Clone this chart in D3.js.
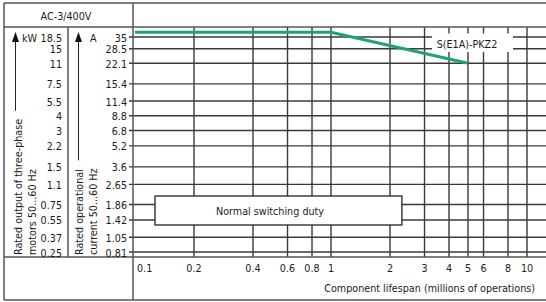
<!DOCTYPE html>
<html>
<head>
<meta charset="utf-8">
<script src="https://cdn.jsdelivr.net/npm/d3@7"></script>
<style>
  body { margin: 0; background: #fff; }
  svg text { font-family: "Liberation Sans Narrow", "DejaVu Sans Condensed", sans-serif; fill: #1a1a1a; }
</style>
</head>
<body>
<div id="chart-area"></div>
<script>
// data
var ampTicks = [35, 28.5, 22.1, 15.4, 11.4, 8.8, 6.8, 5.2, 3.6, 2.65, 1.86, 1.42, 1.05, 0.81]
var kwTicks = ["18.5", "15", "11", "7.5", "5.5", "4", "3", "2.2", "1.5", "1.1", "0.75", "0.55", "0.37", "0.25"]
var lifeTicks = [0.1, 0.2, 0.4, 0.6, 0.8, 1, 2, 3, 4, 5, 6, 8, 10]
var curveLife = [0.1, 1, 5]
var curveAmp = [38, 38, 22.1]
var curveName = "S(E1A)-PKZ2"

var cw = 546, ch = 302
var lineCol = "#3a3a3a"
var fs = "10.7px"

var svg = d3.select("#chart-area").append("svg")
    .attr("width", cw)
    .attr("height", ch)

var x = d3.scaleLog()
    .domain([0.1, 10])
    .range([135, 527])

var y = d3.scaleLog()
    .domain([0.81, 35])
    .range([252, 37])

var top0 = 27, bot0 = 257

// vertical grid
svg.append("g").selectAll("line")
    .data(lifeTicks.slice(1)).enter().append("line")
    .attr("x1", d => x(d)).attr("x2", d => x(d))
    .attr("y1", top0).attr("y2", bot0)
    .attr("stroke", lineCol).attr("stroke-width", 1.4)

// horizontal grid
svg.append("g").selectAll("line")
    .data(ampTicks).enter().append("line")
    .attr("x1", 129).attr("x2", cw)
    .attr("y1", d => y(d)).attr("y2", d => y(d))
    .attr("stroke", lineCol).attr("stroke-width", 1.4)

// frame
var frame = [
    [4, 3, cw, 3], [4, 3, 4, 300], [4, 300, cw, 300],
    [4, top0, cw, top0], [4, bot0, cw, bot0],
    [68, top0, 68, bot0], [133, 3, 133, 300]
]
svg.append("g").selectAll("line")
    .data(frame).enter().append("line")
    .attr("x1", d => d[0]).attr("y1", d => d[1])
    .attr("x2", d => d[2]).attr("y2", d => d[3])
    .attr("stroke", "#555").attr("stroke-width", 1.5)

// curve
var line = d3.line()
    .x((d, i) => x(curveLife[i]))
    .y(d => y(d))

svg.append("path")
    .datum(curveAmp)
    .attr("d", line)
    .attr("fill", "none")
    .attr("stroke", "#1ea56c")
    .attr("stroke-width", 3)

// curve label
svg.append("rect")
    .attr("x", 432).attr("y", 33.5)
    .attr("width", 81).attr("height", 18.5)
    .attr("fill", "#fff")
svg.append("text")
    .attr("x", 467).attr("y", 47.5)
    .attr("text-anchor", "middle")
    .attr("font-size", fs)
    .text(curveName)

// normal switching duty box
svg.append("rect")
    .attr("x", 155).attr("y", 196)
    .attr("width", x(2.3) - 155).attr("height", 29)
    .attr("fill", "#fff")
    .attr("stroke", "#222").attr("stroke-width", 1.3)
svg.append("text")
    .attr("x", 270).attr("y", 214.5)
    .attr("text-anchor", "middle")
    .attr("font-size", fs)
    .text("Normal switching duty")

// left axis labels
svg.append("g").selectAll("text")
    .data(ampTicks).enter().append("text")
    .attr("x", 127).attr("y", d => y(d) + 4.5)
    .attr("text-anchor", "end")
    .attr("font-size", fs)
    .text(d => d)

svg.append("g").selectAll("text")
    .data(kwTicks).enter().append("text")
    .attr("x", 62).attr("y", (d, i) => y(ampTicks[i]) + 4.5)
    .attr("text-anchor", "end")
    .attr("font-size", fs)
    .text(d => d)

svg.append("text").attr("x", 22).attr("y", y(35) + 4.5)
    .attr("font-size", fs).text("kW")
svg.append("text").attr("x", 90).attr("y", y(35) + 4.5)
    .attr("font-size", fs).text("A")

svg.append("text")
    .attr("x", 66).attr("y", 19.5)
    .attr("text-anchor", "middle")
    .attr("font-size", fs)
    .text("AC-3/400V")

// rotated titles, arrows stop just above them
function vtext(tx, ax, lines) {
    var t = svg.append("text")
        .attr("transform", "translate(" + tx + ",255) rotate(-90)")
        .attr("font-size", fs)
    lines.forEach((s, i) => {
        t.append("tspan").attr("x", 0).attr("dy", i == 0 ? 0 : 13.5).text(s)
    })
    var len = d3.max(t.selectAll("tspan").nodes(), n => n.getComputedTextLength())
    svg.append("line")
        .attr("x1", ax).attr("x2", ax)
        .attr("y1", 40).attr("y2", 255 - len - 8)
        .attr("stroke", "#222").attr("stroke-width", 1)
    svg.append("path")
        .attr("d", "M" + (ax - 3.5) + ",42L" + ax + ",32L" + (ax + 3.5) + ",42Z")
        .attr("fill", "#111")
}
vtext(22, 15.5, ["Rated output of three-phase", "motors 50...60 Hz"])
vtext(83, 78.5, ["Rated operational", "current  50...60 Hz"])

// bottom axis labels
svg.append("g").selectAll("text")
    .data(lifeTicks).enter().append("text")
    .attr("x", d => d == 0.1 ? x(d) + 2 : x(d))
    .attr("y", 272)
    .attr("text-anchor", d => d == 0.1 ? "start" : "middle")
    .attr("font-size", fs)
    .text(d => d)

svg.append("text")
    .attr("x", 535).attr("y", 292)
    .attr("text-anchor", "end")
    .attr("font-size", fs)
    .text("Component lifespan (millions of operations)")
</script>
</body>
</html>
